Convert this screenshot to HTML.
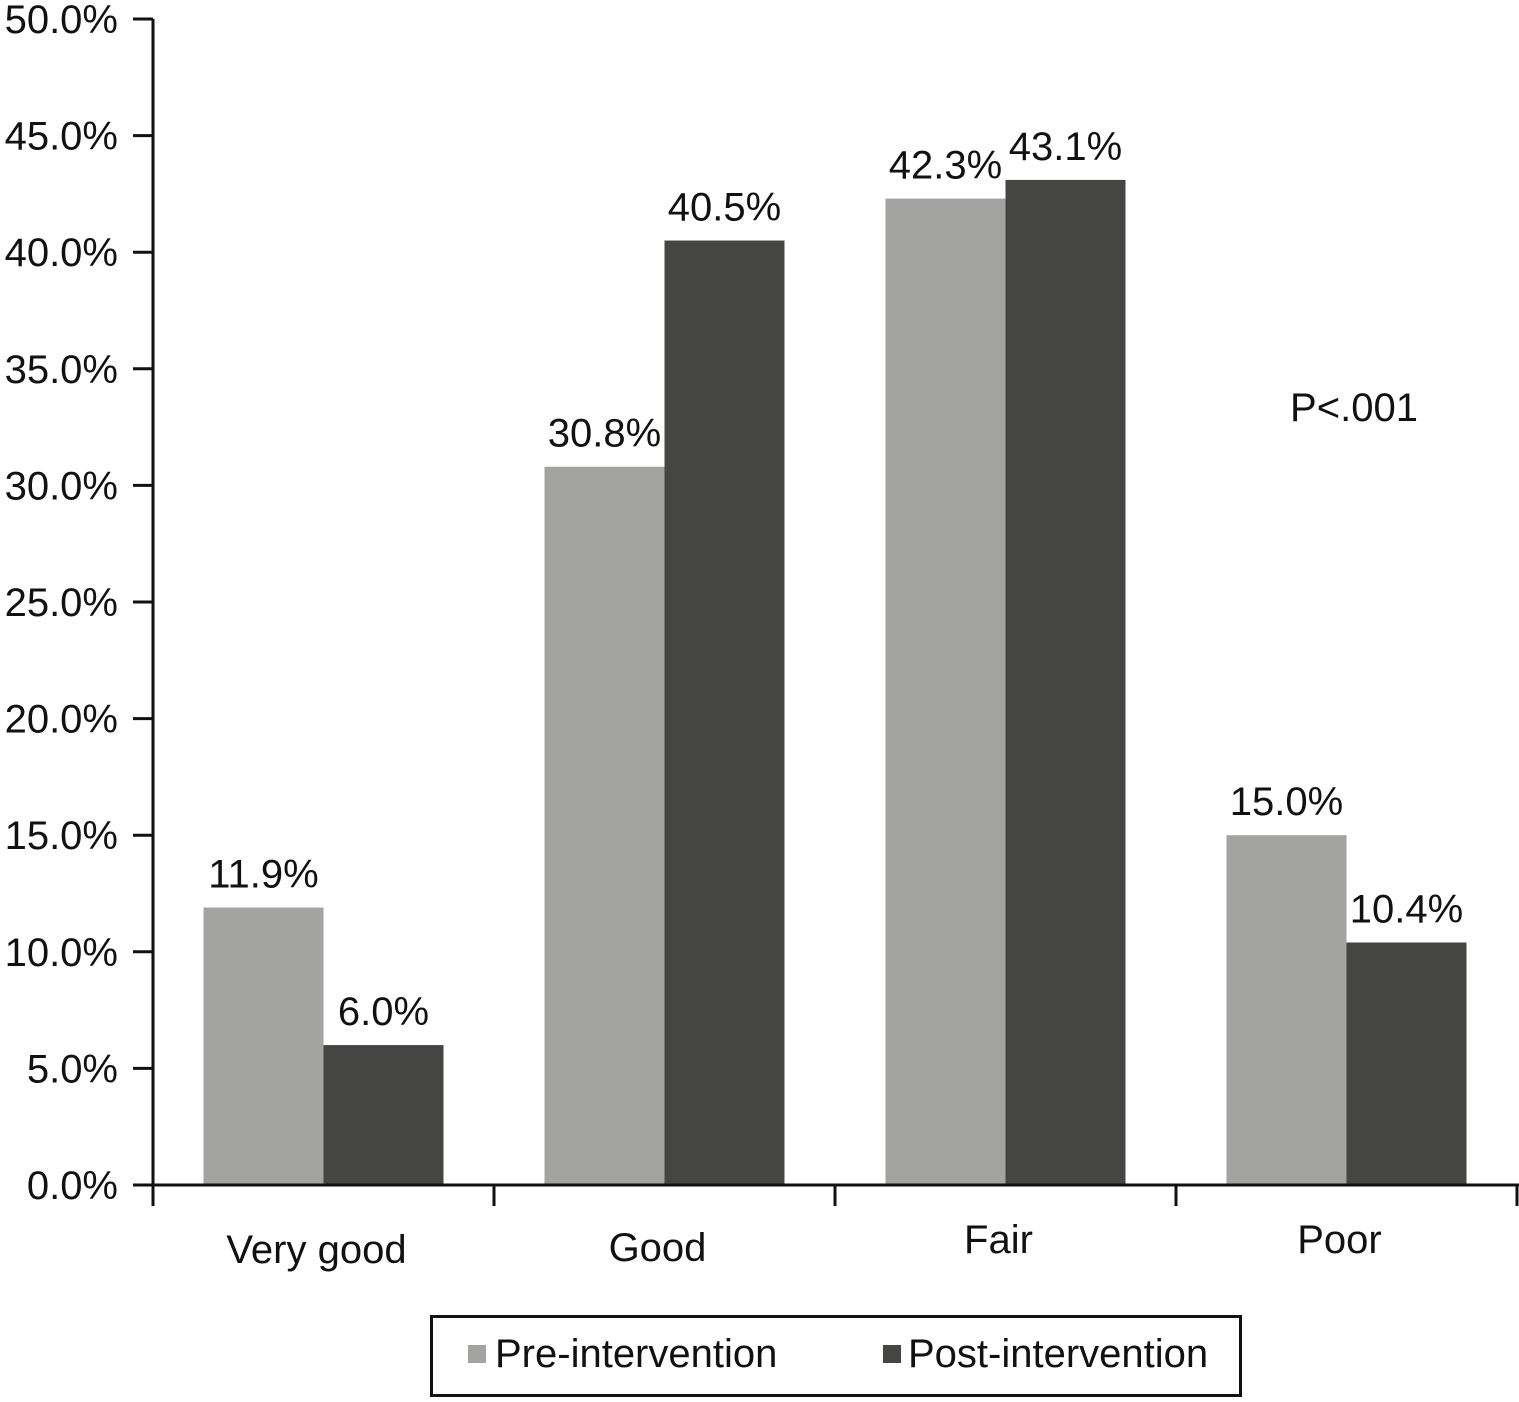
<!DOCTYPE html>
<html><head><meta charset="utf-8"><style>
body{margin:0;background:#fff}
svg text{font-family:"Liberation Sans",Arial,sans-serif;fill:#111}
</style></head><body>
<svg id="chart" width="1519" height="1397" viewBox="0 0 1519 1397" xmlns="http://www.w3.org/2000/svg">
<g id="bars"></g>
<g id="axes"></g>
<text x="1354" y="421" font-size="40" text-anchor="middle">P&lt;.001</text>
<g>
<rect x="431.5" y="1316.5" width="809" height="79" fill="#fff" stroke="#111" stroke-width="3"/>
<rect x="468" y="1345" width="18" height="18" fill="#a3a4a2"/>
<text x="495" y="1367" font-size="40">Pre-intervention</text>
<rect x="883" y="1345" width="18" height="18" fill="#454543"/>
<text x="908" y="1367" font-size="40">Post-intervention</text>
</g>
</svg>
<script>
const categories=["Very good","Good","Fair","Poor"];
const preValues=[11.9,30.8,42.3,15.0];
const postValues=[6.0,40.5,43.1,10.4];
const yTicks=[0,5,10,15,20,25,30,35,40,45,50];
const labelDy=[1263,1261,1253,1253];
const NS="http://www.w3.org/2000/svg";
const x0=153,y0=1185,catW=341,yTop=19;
const y=v=>y0-(v/50)*(y0-yTop);
const bw=120;
const bars=document.getElementById('bars'),axes=document.getElementById('axes');
function mk(tag,attrs,parent){const e=document.createElementNS(NS,tag);for(const k in attrs)e.setAttribute(k,attrs[k]);parent.appendChild(e);return e;}
categories.forEach((c,i)=>{
  const cx=x0+catW*(i+0.5);
  [[preValues[i],'#a3a4a2',cx-bw,'pre'],[postValues[i],'#454543',cx,'post']].forEach(([v,col,bx,s])=>{
    const r=mk('rect',{x:bx,y:y(v),width:bw,height:y0-y(v),fill:col},bars);
    
    
    const t=mk('text',{x:bx+bw/2,y:y(v)-20,'font-size':40,'text-anchor':'middle'},bars);
    t.textContent=v.toFixed(1)+'%';
    
    
  });
  const l=mk('text',{x:cx-7,y:labelDy[i],'font-size':40,'text-anchor':'middle'},axes);
  l.textContent=c;
  
  
});
const ya=mk('line',{x1:x0,y1:yTop,x2:x0,y2:1206,stroke:'#111','stroke-width':3},axes);


const xa=mk('line',{x1:x0,y1:y0,x2:1519,y2:y0,stroke:'#111','stroke-width':3},axes);


for(let i=1;i<=4;i++){
  const tk=mk('line',{x1:x0+catW*i,y1:y0,x2:x0+catW*i,y2:1206,stroke:'#111','stroke-width':3},axes);
  
  
}
yTicks.forEach(v=>{
  const tk=mk('line',{x1:133,y1:y(v),x2:x0,y2:y(v),stroke:'#111','stroke-width':3},axes);
  
  
  const t=mk('text',{x:118,y:y(v)+14,'font-size':40,'text-anchor':'end'},axes);
  t.textContent=v.toFixed(1)+'%';
  
  
});
</script>
</body></html>
